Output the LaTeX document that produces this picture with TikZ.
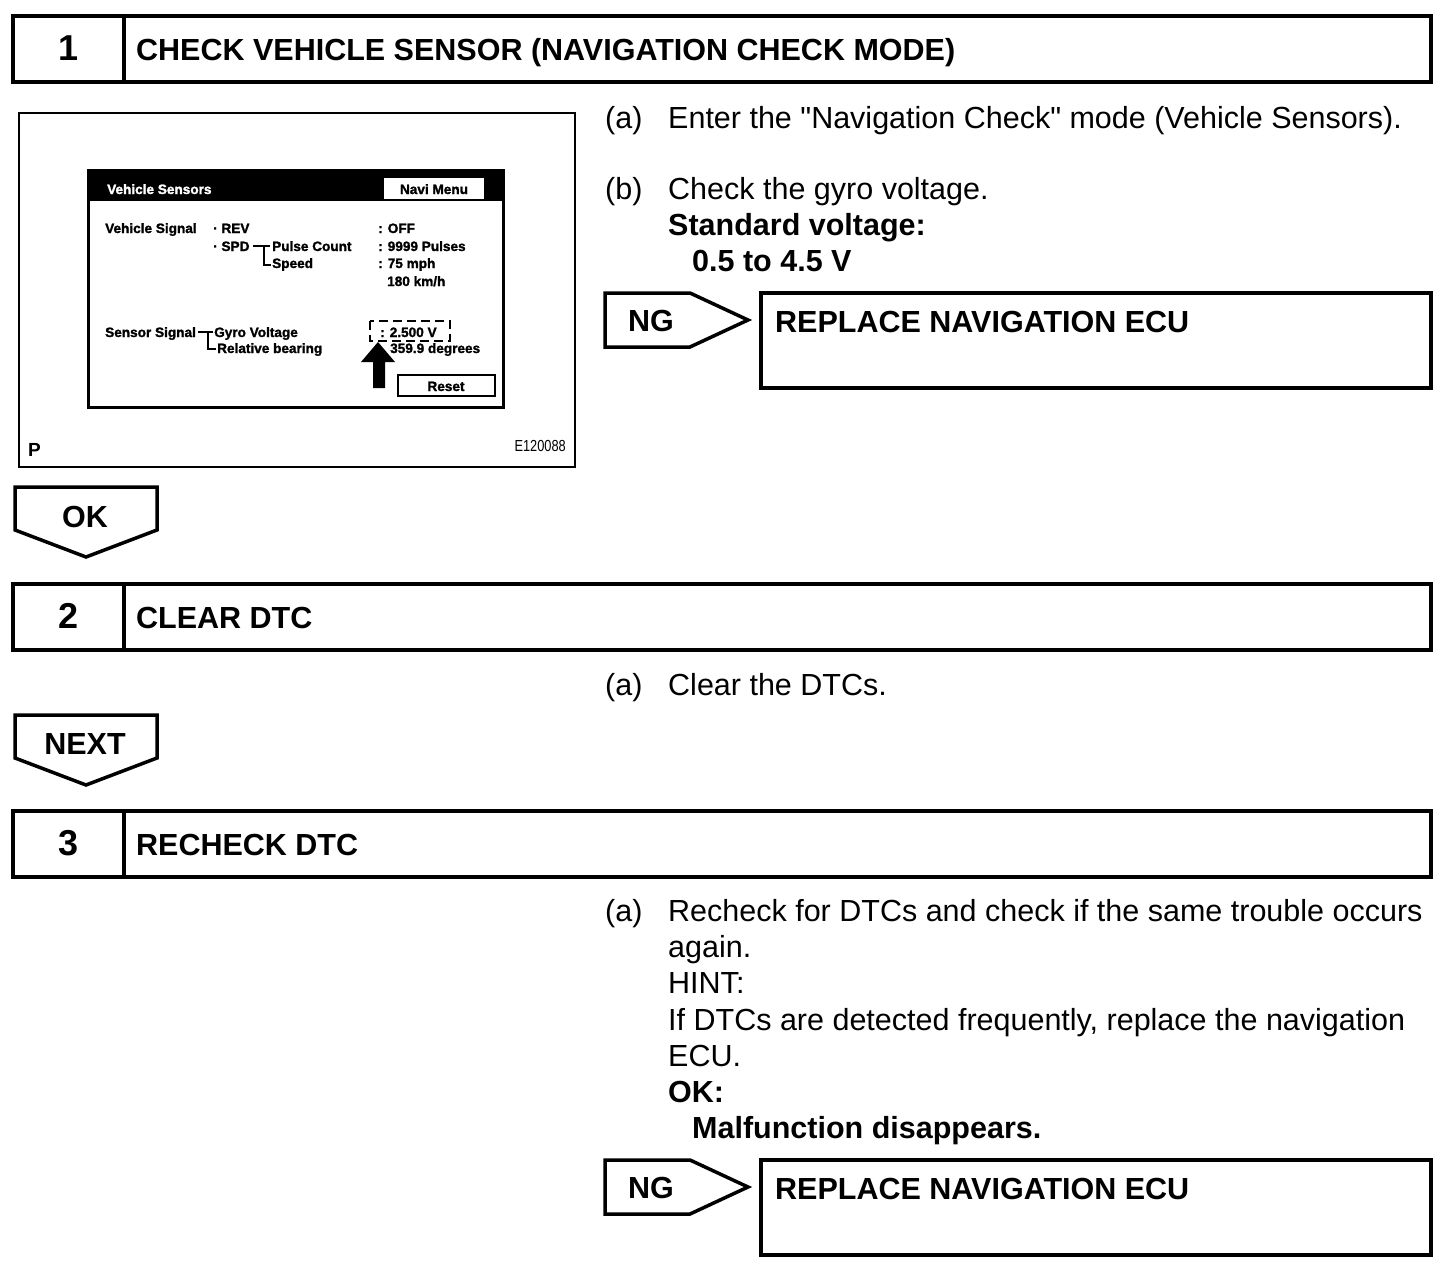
\documentclass[tikz,border=0pt]{standalone}
\usepackage{fontspec}
\setmainfont{Liberation Sans}[Ligatures=TeXOff]
\newfontfamily\scrfont[FakeBold=1.5]{Liberation Sans}
\newfontfamily\figfont[FakeStretch=0.8]{Liberation Sans}
\begin{document}
\begin{tikzpicture}[x=1pt,y=-1pt,line join=miter,
	txt/.style={anchor=base west,inner sep=0pt,font=\fontsize{30.5}{36}\selectfont},
	btxt/.style={txt,font=\bfseries\fontsize{30.5}{36}\selectfont},
	num/.style={anchor=base,inner sep=0pt,font=\bfseries\fontsize{36}{36}\selectfont},
	scr/.style={anchor=base west,inner sep=0pt,font=\scrfont\bfseries\fontsize{13.6}{14}\selectfont},
	frame/.style={line width=3.5pt}]
	\useasboundingbox (0,0) rectangle (1456,1282);
	\foreach \y/\n/\t in {16/1/CHECK VEHICLE SENSOR (NAVIGATION CHECK MODE),584/2/CLEAR DTC,811/3/RECHECK DTC}{
		\draw[frame] (13,\y) rectangle (1431,\y+66) (124,\y)--(124,\y+66);
		\node[num] (n\n) at (69,\y+44) {\n};
		\node[btxt] (h\n) at (136,\y+44) {\t};
	}
	\draw[frame] (15,487)--(157,487)--(157,530)--(86,557)--(15,530)--cycle;
	\node[btxt,anchor=base] (ok) at (85,527) {OK};
	\draw[frame] (15,715)--(157,715)--(157,758)--(86,785)--(15,758)--cycle;
	\node[btxt,anchor=base] (next) at (85,754) {NEXT};
	\foreach \y/\n in {293/1,1160/2}{
		\draw[frame] (605,\y)--(690,\y)--(748,\y+27)--(690,\y+54)--(605,\y+54)--cycle;
		\node[btxt] (ng\n) at (628,\y+38) {NG};
		\draw[frame] (761,\y) rectangle (1431,\y+95);
		\node[btxt] (rep\n) at (775,\y+39) {REPLACE NAVIGATION ECU};
	}
	\node[txt] (la1) at (605,128) {(a)};
	\node[txt] (ta1) at (668,128) {Enter the "Navigation Check" mode (Vehicle Sensors).};
	\node[txt] (lb1) at (605,199) {(b)};
	\node[txt] (tb1) at (668,199) {Check the gyro voltage.};
	\node[btxt] (std) at (668,235) {Standard voltage:};
	\node[btxt] (volt) at (692,271) {0.5 to 4.5 V};
	\node[txt] (la2) at (605,695) {(a)};
	\node[txt] (ta2) at (668,695) {Clear the DTCs.};
	\node[txt] (la3) at (605,921) {(a)};
	\node[txt] (ta3) at (668,921) {Recheck for DTCs and check if the same trouble occurs};
	\node[txt] (tb3) at (668,957) {again.};
	\node[txt] (hint) at (668,993) {HINT:};
	\node[txt] (tc3) at (668,1030) {If DTCs are detected frequently, replace the navigation};
	\node[txt] (td3) at (668,1066) {ECU.};
	\node[btxt] (okt) at (668,1102) {OK:};
	\node[btxt] (mal) at (692,1138) {Malfunction disappears.};
	\draw[line width=2pt] (19,113) rectangle (575,467);
	\node[anchor=base west,inner sep=0pt,font=\bfseries\fontsize{19}{19}\selectfont] (p) at (28,456) {P};
	\node[anchor=base east,inner sep=0pt,font=\figfont\fontsize{16}{16}\selectfont] (fig) at (566,451) {E120088};
	\fill (88,170) rectangle (503,201);
	\fill[white] (384,178) rectangle (484,199);
	\draw[line width=3pt] (88,170) rectangle (503,407);
	\node[scr,text=white] (title) at (107,194) {Vehicle Sensors};
	\node[scr,anchor=base] (navi) at (434,194) {Navi Menu};
	\node[scr] (vsig) at (105,233) {Vehicle Signal};
	\node[scr] (rev) at (213,233) {·\ REV};
	\node[scr] (spd) at (213,251) {·\ SPD};
	\node[scr] (pulse) at (272,251) {Pulse Count};
	\node[scr] (speed) at (272,268) {Speed};
	\node[scr] (off) at (378,233) {: OFF};
	\node[scr] (cnt) at (378,251) {: 9999 Pulses};
	\node[scr] (mph) at (378,268) {: 75 mph};
	\node[scr] (kmh) at (387,286) {180 km/h};
	\draw[line width=1.5pt] (253,246)--(270,246) (264,246)--(264,265)--(271,265);
	\node[scr] (ssig) at (105,337) {Sensor Signal};
	\node[scr] (gyro) at (214,337) {Gyro Voltage};
	\node[scr] (bear) at (217,353) {Relative bearing};
	\draw[line width=1.5pt] (198,332)--(213,332) (208,332)--(208,349)--(216,349);
	\node[scr] (gv) at (380,337) {: 2.500 V};
	\node[scr] (deg) at (390,353) {359.9 degrees};
	\draw[line width=2.5pt,dash pattern=on 9pt off 5pt] (370,321) rectangle (450,341);
	\fill (378,342)--(395,362)--(385,362)--(385,388)--(373,388)--(373,362)--(361,362)--cycle;
	\draw[line width=2pt] (398,375) rectangle (495,396);
	\node[scr,anchor=base] (reset) at (446,391) {Reset};
\end{tikzpicture}
\end{document}
